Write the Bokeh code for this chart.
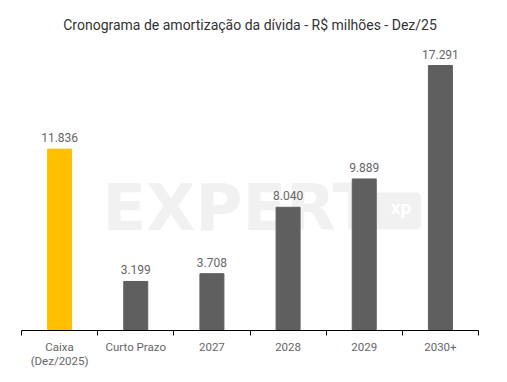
from bokeh.plotting import figure
from bokeh.models import ColumnDataSource, Range1d, FixedTicker, Label
from bokeh.embed import file_html
from bokeh.resources import INLINE
from bokeh.core.properties import value

categories = ["Caixa\n(Dez/2025)", "Curto Prazo", "2027", "2028", "2029", "2030+"]
values = [11836, 3199, 3708, 8040, 9889, 17291]
bar_colors = ["#FFC000", "#5F5F5F", "#5F5F5F", "#5F5F5F", "#5F5F5F", "#5F5F5F"]
value_labels = [f"{v:,}".replace(",", ".") for v in values]

xs = list(range(len(categories)))
src = ColumnDataSource(dict(x=xs, top=values, color=bar_colors, label=value_labels))

FONT = "Roboto"

p = figure(width=491, height=379, output_backend="svg", toolbar_location=None,
           x_range=Range1d(-0.5, len(categories) - 0.5), y_range=Range1d(0, 19120),
           min_border_left=21, min_border_right=13, min_border_top=37, min_border_bottom=49)

p.title.text = "Cronograma de amortização da dívida - R$ milhões - Dez/25"
p.title.align = "center"
p.title.text_font = FONT
p.title.text_font_style = "normal"
p.title.text_font_size = "14px"
p.title.text_color = "#333333"

# watermark
p.add_layout(Label(x=2.36, y=8025, text="EXPERT", text_align="center", text_baseline="middle",
                   text_font="DejaVu Sans", text_font_style="bold", text_font_size="64px",
                   text_color="#F1F1F1", level="underlay"))
p.add_layout(Label(x=4.43, y=7800, text="xp", text_align="center", text_baseline="middle",
                   text_font=FONT, text_font_style="bold", text_font_size="19px",
                   text_color="#FFFFFF", background_fill_color="#F1F1F1",
                   padding=[18, 10, 4, 10], border_radius=5, level="underlay"))

p.vbar(x="x", top="top", width=0.315, color="color", source=src)
p.text(x="x", y="top", text="label", source=src, text_align="center", text_baseline="bottom",
       y_offset=-7, text_font=value(FONT), text_font_size="12px", text_color="#666666")

p.yaxis.visible = False
p.xgrid.visible = False
p.ygrid.visible = False
p.outline_line_color = None

ax = p.xaxis[0]
ax.ticker = FixedTicker(ticks=xs, minor_ticks=[i - 0.5 for i in range(len(categories) + 1)])
ax.major_label_overrides = {i: c for i, c in enumerate(categories)}
ax.major_tick_line_color = None
ax.minor_tick_line_color = "#000000"
ax.minor_tick_out = 5
ax.minor_tick_in = 0
ax.axis_line_color = "#000000"
ax.major_label_text_font = FONT
ax.major_label_text_font_size = "11.5px"
ax.major_label_text_line_height = 1.05
ax.major_label_text_color = "#666666"
ax.major_label_standoff = 3

open("out.html", "w").write(file_html(p, INLINE))
